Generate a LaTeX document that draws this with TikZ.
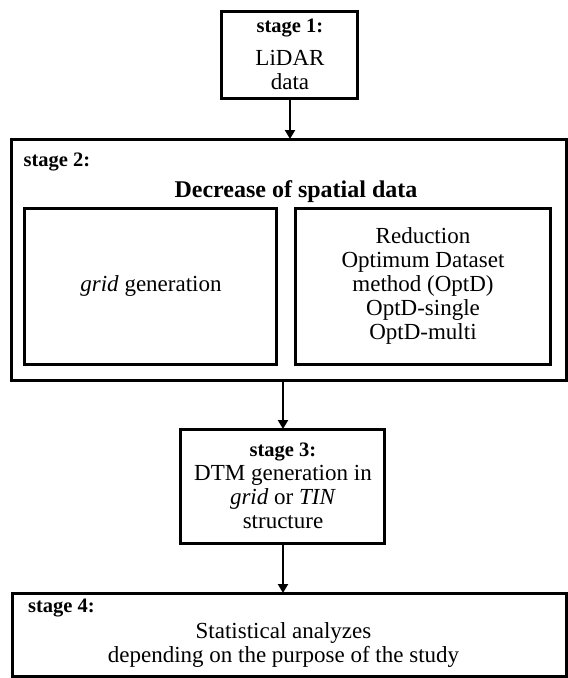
\documentclass[tikz,border=0pt]{standalone}
\usepackage{fontspec}
\setmainfont{Liberation Serif}
\usepackage{tikz}
\usetikzlibrary{positioning,arrows.meta}

\newcommand\bodysize{\fontsize{23}{24}\selectfont}
\newcommand\stagesize{\fontsize{20.5}{24}\selectfont\bfseries}
\newcommand\titlesize{\fontsize{24}{26}\selectfont\bfseries}

\begin{document}
\begin{tikzpicture}[box/.style={draw, line width=3pt, align=center, outer sep=0pt, inner sep=0pt, font=\bodysize},
  stagelabel/.style={font=\stagesize, inner sep=0pt, anchor=north west},
  >={Triangle[width=10pt,length=9pt]}]
\useasboundingbox (-290pt,54.5pt) rectangle (278pt,-623.5pt);
\node [box, minimum width=136pt, minimum height=87pt] (lidar) at (0,0) {{\stagesize stage 1:}\\[9pt] LiDAR \\ data};
\node [box, minimum width=554pt, minimum height=241pt, below=41pt of lidar, xshift=-1pt] (decrease) {};
\node [stagelabel] (lab2) at ([xshift=11.5pt, yshift=-14pt]decrease.north west) {stage 2:};
\node [font=\titlesize, anchor=base] (title) at ([xshift=7pt, yshift=-58pt]decrease.north) {Decrease of spatial data};
\node [box, minimum width=252pt, minimum height=156pt, anchor=south west] (grid) at ([xshift=13pt, yshift=16pt]decrease.south west) {\textit{grid} generation};
\node [box, minimum width=254pt, minimum height=156pt, right=19pt of grid] (optd) {Reduction \\ Optimum Dataset \\ method (OptD) \\ OptD-single \\ OptD-multi};
\node [box, minimum width=204pt, minimum height=114pt, below=49pt of decrease, xshift=-6pt] (dtm) {{\stagesize stage 3:}\\ DTM generation in \\ \textit{grid} or \textit{TIN} \\ structure};
\node [box, minimum width=553pt, minimum height=83pt, below=50pt of dtm, xshift=6.5pt] (stats) {};
\node [stagelabel] (lab4) at ([xshift=15pt, yshift=-6pt]stats.north west) {stage 4:};
\node [align=center, font=\bodysize] (statstext) at ([xshift=-6pt, yshift=-10pt]stats.center) {Statistical analyzes \\ depending on the purpose of the study};
\draw[->, line width=2.2pt] (lidar.south) -- (lidar.south |- decrease.north);
\draw[->, line width=2.2pt] (decrease.south -| dtm.north) -- (dtm.north);
\draw[->, line width=2.2pt] (dtm.south) -- (dtm.south |- stats.north);
\end{tikzpicture}
\end{document}
